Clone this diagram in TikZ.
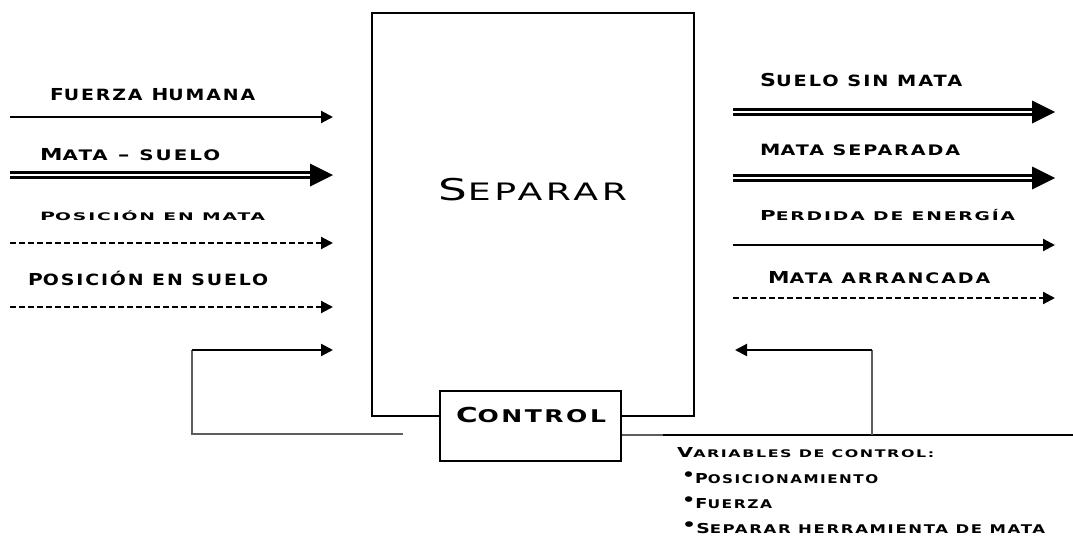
\documentclass[tikz,border=0pt]{standalone}
\usepackage{fontspec}
\usepackage{graphicx}
\usetikzlibrary{arrows.meta}
\newfontfamily\pixfont[LetterSpace=10]{DejaVu Sans}
\definecolor{fbgray}{HTML}{5E5E5E}
% fake small caps label: width, cap size, small size, content
\newcommand\pl[4]{\resizebox{#1pt}{\height}{\def\s##1{{\fontsize{#3pt}{#3pt}\selectfont\MakeUppercase{##1}}}\pixfont\bfseries\fontsize{#2pt}{#2pt}\selectfont #4}}
\newcommand\plr[4]{\resizebox{#1pt}{\height}{\def\s##1{{\fontsize{#3pt}{#3pt}\selectfont\MakeUppercase{##1}}}\pixfont\fontsize{#2pt}{#2pt}\selectfont #4}}
\newcommand\bul{\raisebox{3pt}{\fontsize{16pt}{16pt}\selectfont •}}
\begin{document}
\begin{tikzpicture}[x=1pt,y=-1pt,
  lbl/.style={inner sep=0pt, anchor=base west},
  arr/.style={line width=2.2pt, -{Triangle[length=12pt,width=12pt]}},
  dsh/.style={arr, dash pattern=on 6pt off 3pt},
  dbl/.style={double, line width=2.8pt, double distance=2.6pt},
  fb/.style={line width=2.2pt, draw=fbgray},
  boxed/.style={draw, line width=2.2pt, inner sep=0pt, anchor=north west}]
\useasboundingbox (0,0) rectangle (1073,546);

% main boxes
\node[boxed, minimum width=322pt, minimum height=403pt] (sep) at (371,12) {};
\node[boxed, fill=white, minimum width=181pt, minimum height=70pt] (ctl) at (439,390) {};
\node[inner sep=0pt, anchor=base] (septxt) at (533,200) {\plr{188}{30}{24}{S\s{eparar}}};
\node[inner sep=0pt, anchor=base] (ctltxt) at (531,422) {\pl{150}{20.6}{17.5}{C\s{ontrol}}};

% left inputs
\coordinate (a1s) at (10,117);  \coordinate (a1e) at (333,117);
\coordinate (a2s) at (10,175);  \coordinate (a2m) at (312,175); \coordinate (a2e) at (333,175);
\coordinate (a3s) at (10,243);  \coordinate (a3e) at (333,243);
\coordinate (a4s) at (10,307);  \coordinate (a4e) at (333,307);
\draw[arr] (a1s) -- (a1e);
\draw[dbl] (a2s) -- (a2m);
\fill (a2e) -- ++(-23,-11.5) -- ++(0,23) -- cycle;
\draw[dsh] (a3s) -- (a3e);
\draw[dsh] (a4s) -- (a4e);

\node[lbl] (t1) at (50,100) {\pl{205}{16.5}{15.5}{F\s{uerza} H\s{umana}}};
\node[lbl] (t2) at (40,160) {\pl{180}{16.5}{14.5}{M\s{ata} – \s{suelo}}};
\node[lbl] (t3) at (40,220) {\pl{225}{11.5}{10.5}{P\s{osición en mata}}};
\node[lbl] (t4) at (28,285) {\pl{240}{16.5}{15.5}{P\s{osición en suelo}}};

% right outputs
\coordinate (b1s) at (733,112); \coordinate (b1m) at (1032,112); \coordinate (b1e) at (1055,112);
\coordinate (b2s) at (733,178); \coordinate (b2m) at (1032,178); \coordinate (b2e) at (1055,178);
\coordinate (b3s) at (733,245); \coordinate (b3e) at (1055,245);
\coordinate (b4s) at (733,298); \coordinate (b4e) at (1055,298);
\draw[dbl] (b1s) -- (b1m);
\fill (b1e) -- ++(-23,-11.5) -- ++(0,23) -- cycle;
\draw[dbl] (b2s) -- (b2m);
\fill (b2e) -- ++(-23,-11.5) -- ++(0,23) -- cycle;
\draw[arr] (b3s) -- (b3e);
\draw[dsh] (b4s) -- (b4e);

\node[lbl] (u1) at (760,86) {\pl{202}{17.8}{15.5}{S\s{uelo sin mata}}};
\node[lbl] (u2) at (760,155) {\pl{200}{15.5}{14.5}{M\s{ata separada}}};
\node[lbl] (u3) at (760,220) {\pl{255}{13.7}{12}{P\s{erdida de energía}}};
\node[lbl] (u4) at (768,283) {\pl{222}{16.5}{14.5}{M\s{ata arrancada}}};

% feedback loops
\coordinate (fl1) at (403,434); \coordinate (fl2) at (192,434);
\coordinate (fl3) at (192,350); \coordinate (fl4) at (333,350);
\draw[fb] (fl1) -- (fl2) -- (fl3);
\draw[arr] (fl3) -- (fl4);

\coordinate (fr0) at (ctl.east |- 0,435); \coordinate (fr1) at (663,435);
\coordinate (fr2) at (1073,435); \coordinate (fr3) at (872,435);
\coordinate (fr4) at (872,350); \coordinate (fr5) at (735,350);
\draw[fb] (fr0) -- (fr1);
\draw[line width=2.2pt] (fr1) -- (fr2);
\draw[fb] (fr3) -- (fr4);
\draw[arr] (fr4) -- (fr5);

% control variables
\node[lbl] (v0) at (677,457) {\pl{257}{13.7}{10.5}{V\s{ariables de control:}}};
\node[lbl] (v1) at (682,483) {\pl{196}{13.7}{12}{\bul P\s{osicionamiento}}};
\node[lbl] (v2) at (682,508) {\pl{90}{13.7}{12}{\bul F\s{uerza}}};
\node[lbl] (v3) at (682,533) {\pl{363}{13.7}{12}{\bul S\s{eparar herramienta de mata}}};
\end{tikzpicture}
\end{document}
